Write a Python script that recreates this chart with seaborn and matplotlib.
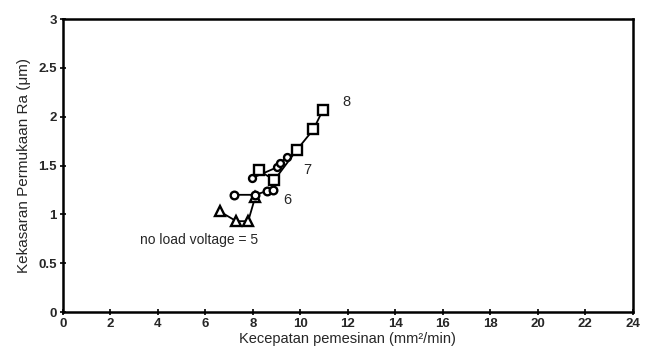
import matplotlib
matplotlib.use("Agg")
import matplotlib.pyplot as plt
import seaborn as sns
import pandas as pd

# Data
x5 = [6.6, 7.3, 7.8, 8.1]
y5 = [1.03, 0.93, 0.93, 1.18]
x6 = [7.2, 8.1, 8.6, 8.85]
y6 = [1.20, 1.20, 1.24, 1.25]
x7 = [7.95, 9.0, 9.15, 9.45]
y7 = [1.37, 1.48, 1.53, 1.59]
x8 = [8.25, 8.9, 9.85, 10.55, 10.95]
y8 = [1.45, 1.35, 1.66, 1.87, 2.07]
series_names = ["5", "6", "7", "8"]
x_ticks = list(range(0, 25, 2))
y_ticks = [0, 0.5, 1, 1.5, 2, 2.5, 3]

rows = []
for name, xs, ys in zip(series_names, [x5, x6, x7, x8], [y5, y6, y7, y8]):
    for i, (a, b) in enumerate(zip(xs, ys)):
        rows.append({"series": name, "order": i, "x": a, "y": b})
df = pd.DataFrame(rows)

sns.set_theme(style="white")
plt.rcParams['font.family'] = ['Liberation Sans', 'DejaVu Sans']

fig = plt.figure(figsize=(6.47, 3.52), dpi=100)
ax = fig.add_axes([0.0974, 0.1136, 0.8806, 0.8324])

markers = {"5": "^", "6": "o", "7": "o", "8": "s"}
sizes_ms = {"5": 6.5, "6": 5.5, "7": 5, "8": 7}
for name in series_names:
    sub = df[df.series == name].sort_values("order")
    sns.lineplot(data=sub, x="x", y="y", sort=False, ax=ax, color="black",
                 linewidth=1.3, marker=markers[name], markersize=sizes_ms[name],
                 markerfacecolor="white", markeredgecolor="black",
                 markeredgewidth=1.7, legend=False)

ax.set_xlim(0, 24)
ax.set_ylim(0, 3)
ax.set_xticks(x_ticks)
ax.set_xticklabels([str(t) for t in x_ticks], fontweight="bold")
ax.set_yticks(y_ticks)
ax.set_yticklabels(["0", "0.5", "1", "1.5", "2", "2.5", "3"], fontweight="bold")
ax.tick_params(direction="inout", length=5, width=1.2, labelsize=9.5, color="black",
               bottom=True, left=True, pad=2)
for s in ax.spines.values():
    s.set_color("black")
    s.set_linewidth(1.8)

ax.set_xlabel("Kecepatan pemesinan (mm²/min)", fontsize=10.5, labelpad=1)
ax.set_ylabel("Kekasaran Permukaan Ra (μm)", fontsize=11, labelpad=5)

ax.text(11.95, 2.15, "8", fontsize=10.5, ha="center", va="center")
ax.text(10.3, 1.45, "7", fontsize=10.5, ha="center", va="center")
ax.text(9.45, 1.15, "6", fontsize=10.5, ha="center", va="center")
ax.text(3.25, 0.74, "no load voltage = 5", fontsize=10, ha="left", va="center")

fig.savefig("out.png", dpi=100)
